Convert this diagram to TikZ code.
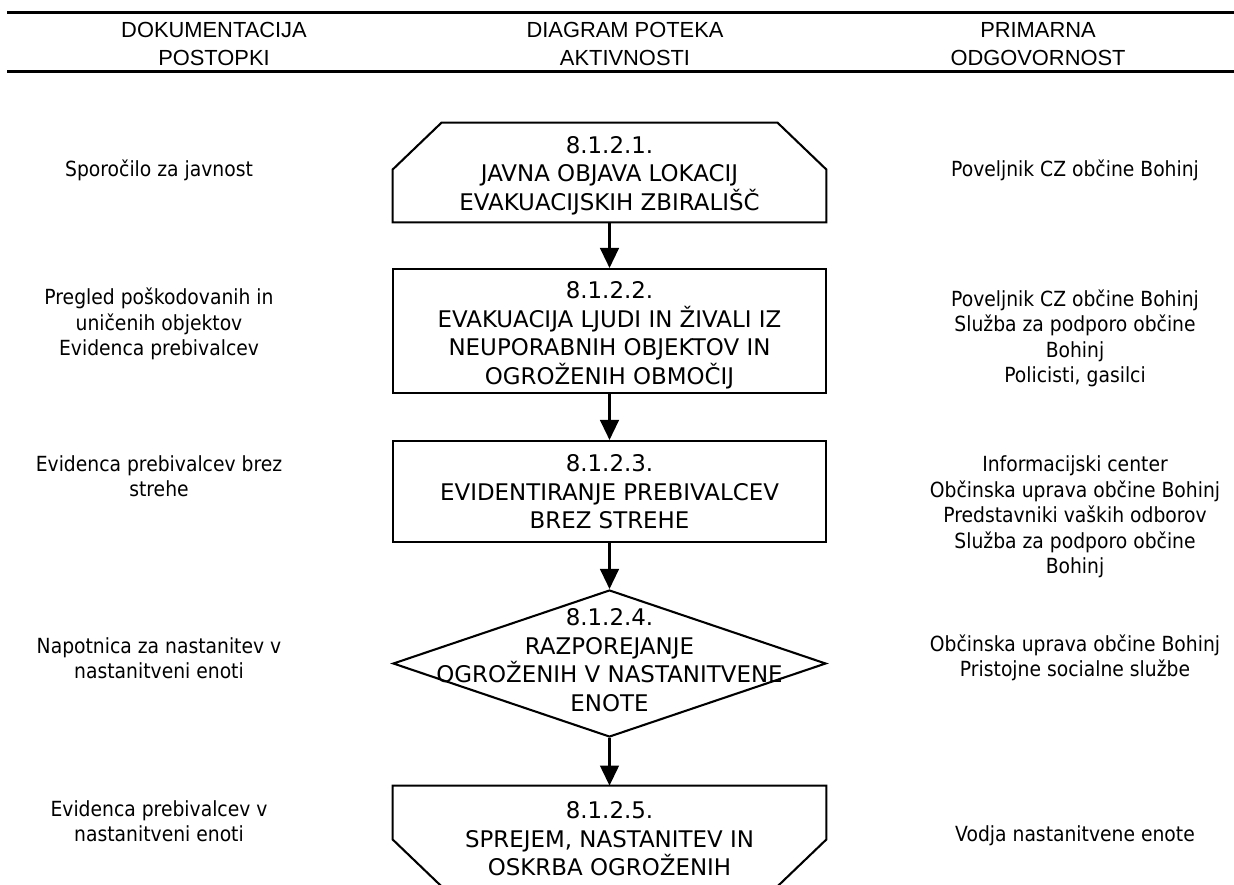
\documentclass[tikz,border=0pt]{standalone}
\usepackage{fontspec}
\setmainfont{DejaVu Sans}
\newfontfamily\sidefont[FakeStretch=0.9]{DejaVu Sans}
\newfontfamily\headfont{Liberation Sans}
\usetikzlibrary{arrows.meta,shapes.geometric,calc}
\begin{document}
\lineskiplimit=-20pt\relax
\begin{tikzpicture}[x=0.48pt,y=-0.48pt,
  plainbox/.style={inner sep=0pt, minimum width=207.84pt},
  shapebox/.style={draw=black, line width=1pt, inner sep=0pt, minimum width=207.84pt},
  outline/.style={draw=black, line width=1pt, line join=miter},
  boxtext/.style={align=center, inner sep=0pt, font=\fontsize{11}{13.7}\selectfont},
  sidetext/.style={align=center, inner sep=0pt, font=\sidefont\fontsize{10}{12.24}\selectfont},
  headtext/.style={align=center, inner sep=0pt, font=\headfont\fontsize{10.5}{13.44}\selectfont},
  flow/.style={line width=1pt, -{Triangle[length=9.6pt,width=9pt]}},
  rulestyle/.style={line width=1.4pt}]
\useasboundingbox (0,0) rectangle (1234,884);
\fill[white] (0,0) rectangle (1234,884);

% header rules
\coordinate (ha) at (7,12.5);
\coordinate (hb) at (1240,12.5);
\coordinate (hc) at (7,71.5);
\coordinate (hd) at (1240,71.5);
\draw[rulestyle] (ha) -- (hb);
\draw[rulestyle] (hc) -- (hd);

\node[headtext] (hL) at (214,45.6) {\strut DOKUMENTACIJA\\\strut POSTOPKI};
\node[headtext] (hC) at (625,45.6) {\strut DIAGRAM POTEKA\\\strut AKTIVNOSTI};
\node[headtext] (hR) at (1038,45.6) {\strut PRIMARNA\\\strut ODGOVORNOST};

% shapes
\node[plainbox, minimum height=47.52pt] (s1) at (609.5,172.5) {};
\draw[outline] (s1.south west) -- ($(s1.north west)+(0,47)$) -- ($(s1.north west)+(49,0)$)
  -- ($(s1.north east)+(-49,0)$) -- ($(s1.north east)+(0,47)$) -- (s1.south east) -- cycle;
\node[shapebox, minimum height=59.52pt] (s2) at (609.5,331) {};
\node[shapebox, minimum height=48.48pt] (s3) at (609.5,491.5) {};
\node[diamond, draw=black, line width=1pt, inner sep=0pt, minimum width=207.84pt, minimum height=70.56pt] (s4) at (609.5,663.5) {};
\node[plainbox, minimum height=48pt] (s5) at (609.5,836) {};
\draw[outline] (s5.north west) -- (s5.north east) -- ($(s5.south east)+(0,-47)$)
  -- ($(s5.south east)+(-49,0)$) -- ($(s5.south west)+(49,0)$) -- ($(s5.south west)+(0,-47)$) -- cycle;

% connectors
\draw[flow] (s1) -- (s2);
\draw[flow] (s2) -- (s3);
\draw[flow] (s3) -- (s4);
\draw[flow] (s4) -- (s5);

% shape texts
\node[boxtext] (t1) at (609.5,176) {\strut 8.1.2.1.\\\strut JAVNA OBJAVA LOKACIJ\\\strut EVAKUACIJSKIH ZBIRALIŠČ};
\node[boxtext] (t2) at (609.5,335.6) {\strut 8.1.2.2.\\\strut EVAKUACIJA LJUDI IN ŽIVALI IZ\\\strut NEUPORABNIH OBJEKTOV IN\\\strut OGROŽENIH OBMOČIJ};
\node[boxtext] (t3) at (609.5,494.3) {\strut 8.1.2.3.\\\strut EVIDENTIRANJE PREBIVALCEV\\\strut BREZ STREHE};
\node[boxtext] (t4) at (609.5,662.6) {\strut 8.1.2.4.\\\strut RAZPOREJANJE\\\strut OGROŽENIH V NASTANITVENE\\\strut ENOTE};
\node[boxtext] (t5) at (609.5,841.6) {\strut 8.1.2.5.\\\strut SPREJEM, NASTANITEV IN\\\strut OSKRBA OGROŽENIH};

% left column
\node[sidetext] (l1) at (159,171.6) {\strut Sporočilo za javnost};
\node[sidetext] (l2) at (159,325) {\strut Pregled poškodovanih in\\\strut uničenih objektov\\\strut Evidenca prebivalcev};
\node[sidetext] (l3) at (159,479) {\strut Evidenca prebivalcev brez\\\strut strehe};
\node[sidetext] (l4) at (159,661) {\strut Napotnica za nastanitev v\\\strut nastanitveni enoti};
\node[sidetext] (l5) at (159,824) {\strut Evidenca prebivalcev v\\\strut nastanitveni enoti};

% right column
\node[sidetext] (r1) at (1075,171.6) {\strut Poveljnik CZ občine Bohinj};
\node[sidetext] (r2) at (1075,339.3) {\strut Poveljnik CZ občine Bohinj\\\strut Služba za podporo občine\\\strut Bohinj\\\strut Policisti, gasilci};
\node[sidetext] (r3) at (1075,517.6) {\strut Informacijski center\\\strut Občinska uprava občine Bohinj\\\strut Predstavniki vaških odborov\\\strut Služba za podporo občine\\\strut Bohinj};
\node[sidetext] (r4) at (1075,659) {\strut Občinska uprava občine Bohinj\\\strut Pristojne socialne službe};
\node[sidetext] (r5) at (1075,836.6) {\strut Vodja nastanitvene enote};
\end{tikzpicture}
\end{document}
